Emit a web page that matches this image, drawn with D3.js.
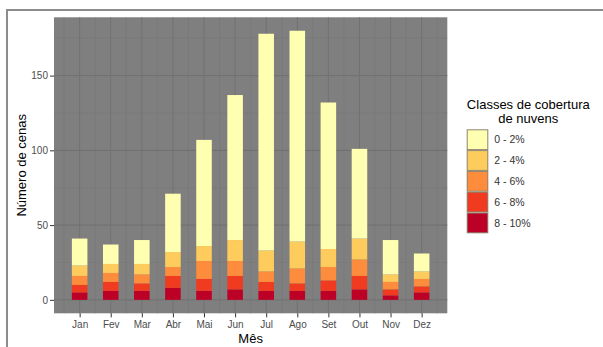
<!DOCTYPE html>
<html>
<head>
<meta charset="utf-8">
<script src="https://cdn.jsdelivr.net/npm/d3@7"></script>
<style>
  body { margin: 0; background: #fff; }
  svg { font-family: 'Liberation Sans', Arial, sans-serif; display: block; }
  .axis text { fill: #4d4d4d; font-size: 10px; }
  .axis line { stroke: #333; }
</style>
</head>
<body>
<svg id="chart"></svg>
<script>
// Months on the x axis, cloud cover classes stacked
const months = ['Jan', 'Fev', 'Mar', 'Abr', 'Mai', 'Jun', 'Jul', 'Ago', 'Set', 'Out', 'Nov', 'Dez'];
const classes = ['0 - 2%', '2 - 4%', '4 - 6%', '6 - 8%', '8 - 10%'];
const classColors = ['#ffffb2', '#fecc5c', '#fd8d3c', '#f03b20', '#bd0026'];

// Number of scenes per class
const cls0to2 = [18, 13, 16, 39, 71, 97, 145, 141, 98, 60, 23, 12];
const cls2to4 = [7, 6, 7, 10, 10, 14, 14, 18, 12, 14, 5, 5];
const cls4to6 = [6, 6, 6, 6, 12, 10, 7, 10, 9, 11, 5, 5];
const cls6to8 = [5, 6, 5, 8, 8, 9, 6, 5, 7, 9, 4, 4];
const cls8to10 = [5, 6, 6, 8, 6, 7, 6, 6, 6, 7, 3, 5];

const yTicks = [0, 50, 100, 150];

class StackedScenesChart {
  constructor(_config) {
    this.config = {
      parentElement: _config.parentElement,
      containerWidth: 603,
      containerHeight: 347,
      panel: { left: 54, top: 17.3, right: 447.3, bottom: 313.3 },
    };
    this.initVis();
  }

  initVis() {
    const vis = this;
    const p = vis.config.panel;

    // one row per month, keyed by class label
    const series = [cls0to2, cls2to4, cls4to6, cls6to8, cls8to10];
    vis.data = months.map((m, i) => {
      const row = { month: i + 1 };
      classes.forEach((c, k) => { row[c] = series[k][i]; });
      return row;
    });

    // bottom of the stack is the 8 - 10% class
    vis.stack = d3.stack().keys(classes.slice().reverse());
    vis.color = d3.scaleOrdinal().domain(classes).range(classColors);

    const maxTotal = d3.max(vis.data, (d) => d3.sum(classes, (c) => d[c]));

    // continuous month scale, bar width 0.5, 5% expansion like ggplot
    const xPad = (11.5) * 0.05 + 0.25;
    vis.xScale = d3.scaleLinear()
      .domain([1 - xPad, 12 + xPad])
      .range([p.left, p.right]);

    vis.yScale = d3.scaleLinear()
      .domain([-maxTotal * 0.05, maxTotal * 1.05])
      .range([p.bottom, p.top]);

    vis.svg = d3.select(vis.config.parentElement)
      .attr('width', vis.config.containerWidth)
      .attr('height', vis.config.containerHeight);

    // outer frame (only top and left edges are visible in the crop)
    vis.svg.append('rect')
      .attr('x', 7)
      .attr('y', 10)
      .attr('width', 620)
      .attr('height', 360)
      .attr('fill', 'none')
      .attr('stroke', '#8c8c8c')
      .attr('stroke-width', 2);

    vis.panel = vis.svg.append('g');
    vis.marks = vis.svg.append('g');

    vis.renderVis();
  }

  renderVis() {
    const vis = this;
    const p = vis.config.panel;

    vis.panel.append('rect')
      .attr('x', p.left)
      .attr('y', p.top)
      .attr('width', p.right - p.left)
      .attr('height', p.bottom - p.top)
      .attr('fill', '#7f7f7f');

    // minor grid
    const yMinor = yTicks.map((t) => t + 25);
    vis.panel.selectAll('.grid-y-minor')
      .data(yMinor)
      .join('line')
      .attr('class', 'grid-y-minor')
      .attr('x1', p.left).attr('x2', p.right)
      .attr('y1', (d) => vis.yScale(d)).attr('y2', (d) => vis.yScale(d))
      .attr('stroke', '#777')
      .attr('stroke-width', 0.6);

    const xMinor = d3.range(0.5, 13, 1);
    vis.panel.selectAll('.grid-x-minor')
      .data(xMinor)
      .join('line')
      .attr('class', 'grid-x-minor')
      .attr('y1', p.top).attr('y2', p.bottom)
      .attr('x1', (d) => vis.xScale(d)).attr('x2', (d) => vis.xScale(d))
      .attr('stroke', '#777')
      .attr('stroke-width', 0.6);

    // major grid
    vis.panel.selectAll('.grid-y')
      .data(yTicks)
      .join('line')
      .attr('class', 'grid-y')
      .attr('x1', p.left).attr('x2', p.right)
      .attr('y1', (d) => vis.yScale(d)).attr('y2', (d) => vis.yScale(d))
      .attr('stroke', '#707070')
      .attr('stroke-width', 1);

    vis.panel.selectAll('.grid-x')
      .data(d3.range(1, 13))
      .join('line')
      .attr('class', 'grid-x')
      .attr('y1', p.top).attr('y2', p.bottom)
      .attr('x1', (d) => vis.xScale(d)).attr('x2', (d) => vis.xScale(d))
      .attr('stroke', '#727272')
      .attr('stroke-width', 1);

    // stacked bars
    const barW = vis.xScale(1.5) - vis.xScale(1);
    const layers = vis.marks.selectAll('.layer')
      .data(vis.stack(vis.data))
      .join('g')
      .attr('class', 'layer')
      .attr('fill', (d) => vis.color(d.key));

    layers.selectAll('rect')
      .data((d) => d)
      .join('rect')
      .attr('x', (d) => vis.xScale(d.data.month) - barW / 2)
      .attr('width', barW)
      .attr('y', (d) => vis.yScale(d[1]))
      .attr('height', (d) => vis.yScale(d[0]) - vis.yScale(d[1]));

    // axes
    const xAxis = d3.axisBottom(vis.xScale)
      .tickValues(d3.range(1, 13))
      .tickFormat((d) => months[d - 1])
      .tickSize(4)
      .tickPadding(2);

    const yAxis = d3.axisLeft(vis.yScale)
      .tickValues(yTicks)
      .tickSize(4)
      .tickPadding(2);

    const xAxisG = vis.svg.append('g')
      .attr('class', 'axis x-axis')
      .attr('transform', `translate(0,${p.bottom})`)
      .call(xAxis);
    xAxisG.select('.domain').remove();
    xAxisG.selectAll('text').attr('dy', '0.9em');

    const yAxisG = vis.svg.append('g')
      .attr('class', 'axis y-axis')
      .attr('transform', `translate(${p.left},0)`)
      .call(yAxis);
    yAxisG.select('.domain').remove();

    // axis titles
    vis.svg.append('text')
      .attr('x', (p.left + p.right) / 2)
      .attr('y', 343)
      .attr('text-anchor', 'middle')
      .attr('font-size', 13)
      .attr('fill', '#000')
      .text('Mês');

    vis.svg.append('text')
      .attr('transform', `translate(25.5,${(p.top + p.bottom) / 2}) rotate(-90)`)
      .attr('text-anchor', 'middle')
      .attr('font-size', 13)
      .attr('fill', '#000')
      .text('Número de cenas');

    // legend
    const legend = vis.svg.append('g')
      .attr('transform', 'translate(466.7,129.3)');

    legend.append('text')
      .attr('x', 61.6)
      .attr('y', -20.5)
      .attr('text-anchor', 'middle')
      .attr('font-size', 13)
      .attr('fill', '#000')
      .text('Classes de cobertura');

    legend.append('text')
      .attr('x', 61.6)
      .attr('y', -6.5)
      .attr('text-anchor', 'middle')
      .attr('font-size', 13)
      .attr('fill', '#000')
      .text('de nuvens');

    const keyH = 20.8;
    const items = legend.selectAll('.legend-item')
      .data(classes)
      .join('g')
      .attr('class', 'legend-item')
      .attr('transform', (d, i) => `translate(0,${i * keyH})`);

    items.append('rect')
      .attr('width', 21.6)
      .attr('height', keyH)
      .attr('fill', '#8f8570');

    items.append('rect')
      .attr('x', 1)
      .attr('y', 1)
      .attr('width', 19.6)
      .attr('height', keyH - 2)
      .attr('fill', (d) => vis.color(d));

    items.append('text')
      .attr('x', 27.6)
      .attr('y', keyH / 2)
      .attr('dy', '0.35em')
      .attr('font-size', 10.5)
      .attr('fill', '#333')
      .text((d) => d);
  }
}

// eslint-disable-next-line no-unused-vars
const chart = new StackedScenesChart({ parentElement: '#chart' });
</script>
</body>
</html>
